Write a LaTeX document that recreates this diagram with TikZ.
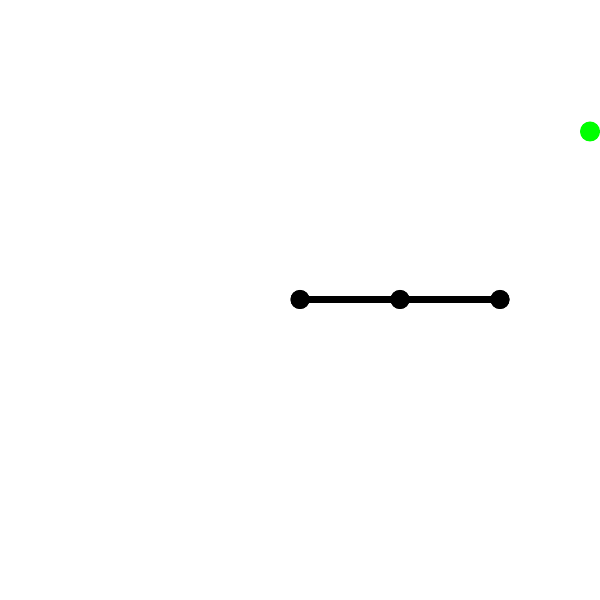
\documentclass[tikz,border=0pt]{standalone}
\begin{document}
\begin{tikzpicture}[x=1pt,y=1pt,
  blackdot/.style={circle,fill=black,inner sep=0pt,minimum size=19pt},
  greendot/.style={circle,fill={rgb,255:red,0;green,255;blue,0},inner sep=0pt,minimum size=20pt},
  link/.style={line width=7.5pt,black}]
\useasboundingbox (0,0) rectangle (600,600);
\node[blackdot] (a) at (300,300.5) {};
\node[blackdot] (b) at (400,300.5) {};
\node[blackdot] (c) at (500,300.5) {};
\node[greendot] (g) at (590,468.5) {};
\draw[link] (a.center) -- (b.center) -- (c.center);
\node[blackdot] at (a) {};
\node[blackdot] at (b) {};
\node[blackdot] at (c) {};
\end{tikzpicture}
\end{document}
